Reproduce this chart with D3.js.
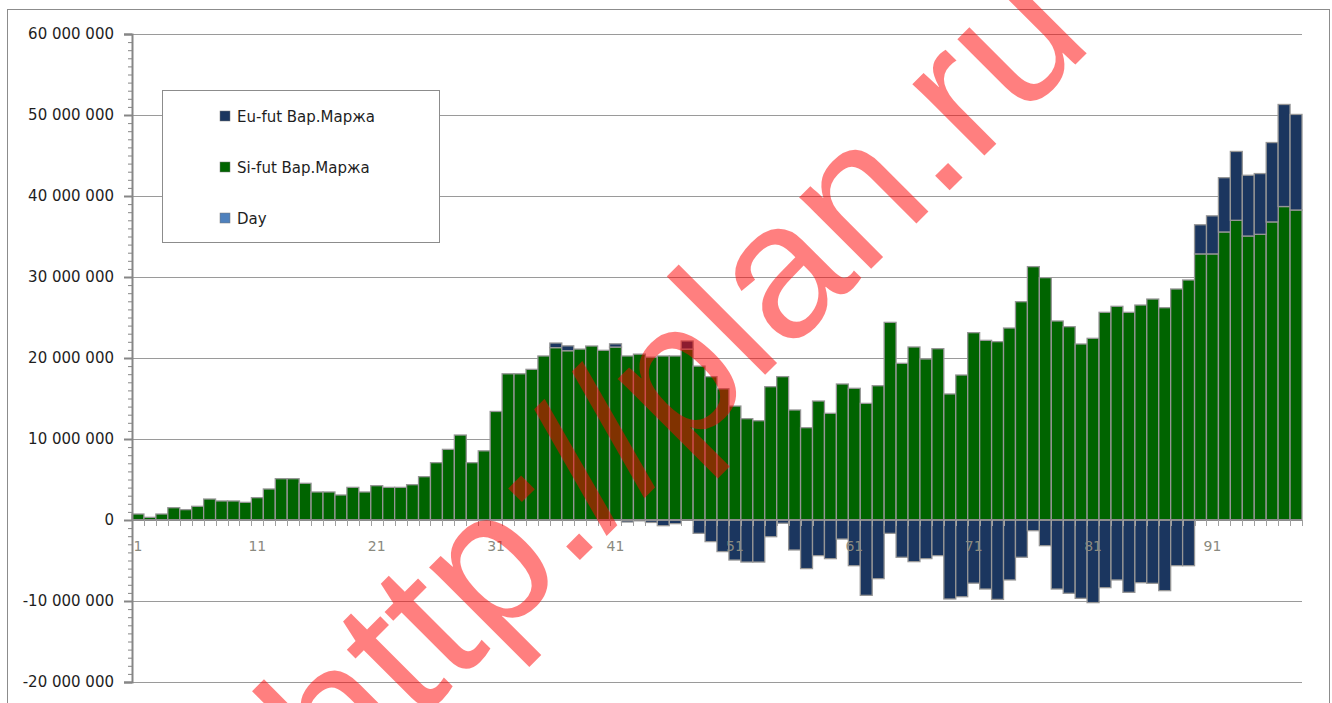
<!DOCTYPE html>
<meta charset="utf-8">
<style>
  body { margin: 0; background: #fff; }
  text { font-family: "DejaVu Sans", sans-serif; }
</style>

<!-- Load d3.js -->
<script src="https://d3js.org/d3.v7.min.js"></script>

<!-- Create a div where the graph will take place -->
<div id="my_dataviz"></div>

<script>

// data (values in millions)
var days = d3.range(1, 99);

var siFut = [
  0.74, 0.33, 0.74, 1.52, 1.28, 1.69, 2.59, 2.35, 2.35, 2.18,
  2.76, 3.83, 5.10, 5.10, 4.53, 3.46, 3.46, 3.09, 4.03, 3.46,
  4.24, 4.03, 4.03, 4.36, 5.35, 7.08, 8.72, 10.49, 7.08, 8.54,
  13.40, 18.05, 18.05, 18.6, 20.25, 21.28, 20.9, 21.1, 21.48, 20.95,
  21.35, 20.25, 20.48, 20.1, 20.25, 20.25, 21.1, 19.0, 17.7, 16.2,
  14.07, 12.51, 12.26, 16.46, 17.7, 13.58, 11.4, 14.69, 13.17, 16.79,
  16.26, 14.4, 16.58, 24.4, 19.34, 21.36, 19.88, 21.15, 15.56, 17.9,
  23.13, 22.18, 22.02, 23.7, 26.95, 31.28, 29.92, 24.57, 23.87, 21.73,
  22.43, 25.64, 26.38, 25.64, 26.54, 27.28, 26.21, 28.52, 29.63, 32.85,
  32.85, 35.56, 37.0, 35.06, 35.27, 36.8, 38.7, 38.27
];

var euFut = [
  0, 0, 0, 0, 0, 0, 0, 0, 0, 0,
  0, 0, 0, 0, 0, 0, 0, 0, 0, 0,
  0, 0, 0, 0, 0, 0, 0, 0, 0, 0,
  0, 0, 0, 0, 0, 0.57, 0.6, 0, 0, 0,
  0.4, -0.25, -0.1, -0.3, -0.7, -0.45, 1.0, -1.65, -2.67, -3.9,
  -4.94, -5.19, -5.19, -2.06, -0.4, -3.7, -6.0, -4.4, -4.77, -2.35,
  -5.64, -9.3, -7.24, -1.65, -4.6, -5.14, -4.77, -4.4, -9.75, -9.47,
  -7.8, -8.52, -9.8, -7.4, -4.6, -1.32, -3.17, -8.52, -9.05, -9.67,
  -10.2, -8.35, -7.4, -8.93, -7.74, -7.82, -8.72, -5.64, -5.64, 3.6,
  4.7, 6.7, 8.5, 7.5, 7.5, 9.8, 12.6, 11.8
];

var seriesNames = ["Eu-fut Вар.Маржа", "Si-fut Вар.Маржа", "Day"];
var seriesColors = ["#1b365f", "#006400", "#4f81bd"];
var yTicks = [-20e6, -10e6, 0, 10e6, 20e6, 30e6, 40e6, 50e6, 60e6];
var xLabels = [1, 11, 21, 31, 41, 51, 61, 71, 81, 91];

// set the dimensions and margins of the graph
var W = 1332, H = 703;
var margin = {top: 34, right: 30, bottom: 21, left: 132},
    width = 1302 - margin.left,
    height = 682 - margin.top;

var svg = d3.select("#my_dataviz")
  .append("svg")
    .attr("width", W)
    .attr("height", H);

// outer frame
svg.append("rect")
    .attr("x", 7.5).attr("y", 9.5)
    .attr("width", 1322).attr("height", 720)
    .attr("fill", "none")
    .attr("stroke", "#8c8c8c");

var g = svg.append("g")
    .attr("transform", "translate(" + margin.left + "," + margin.top + ")");

var x = d3.scaleBand()
    .domain(days)
    .range([0, width])
    .padding(0);

var y = d3.scaleLinear()
    .domain([-20e6, 60e6])
    .range([height, 0]);

// gridlines
g.selectAll(".grid")
  .data(yTicks)
  .enter().append("line")
    .attr("x1", 0).attr("x2", width)
    .attr("y1", function(d) { return Math.round(y(d)) + 0.5; })
    .attr("y2", function(d) { return Math.round(y(d)) + 0.5; })
    .attr("stroke", "#9a9a9a");

// stacked bars
var rows = days.map(function(d, i) {
  return {day: d, si: siFut[i] * 1e6, eu: euFut[i] * 1e6};
});
var stack = d3.stack()
    .keys(["si", "eu"])
    .offset(d3.stackOffsetDiverging);
var layers = stack(rows);
var layerColor = {si: seriesColors[1], eu: seriesColors[0]};

g.selectAll(".layer")
  .data(layers)
  .enter().append("g")
    .attr("fill", function(d) { return layerColor[d.key]; })
  .selectAll("rect")
  .data(function(d) { return d.filter(function(p) { return p[1] !== p[0]; }); })
  .enter().append("rect")
    .attr("x", function(d) { return x(d.data.day); })
    .attr("width", x.bandwidth())
    .attr("y", function(d) { return y(Math.max(d[0], d[1])); })
    .attr("height", function(d) { return Math.abs(y(d[0]) - y(d[1])); })
    .attr("stroke", "#969696")
    .attr("stroke-width", 1.3);

// Y axis with major and minor ticks
var fmt = function(v) {
  var s = d3.format(",")(Math.abs(v)).replace(/,/g, " ");
  return (v < 0 ? "-" : "") + s;
};
var yAxis = g.append("g")
    .call(d3.axisLeft(y).tickValues(yTicks).tickSize(8).tickPadding(10).tickFormat(fmt));
yAxis.select(".domain").attr("stroke", "#868686").attr("stroke-width", 2);
yAxis.selectAll(".tick line").attr("stroke", "#868686").attr("stroke-width", 2);
yAxis.selectAll(".tick text")
    .attr("fill", "#1e1e1e")
    .style("font-size", "15px")
    .style("font-family", "DejaVu Sans, sans-serif");

g.append("g")
    .call(d3.axisLeft(y).tickValues(d3.range(-20e6, 60e6 + 1, 1e6)).tickSize(4).tickFormat(""))
    .call(function(a) { a.select(".domain").remove(); })
    .selectAll(".tick line").attr("stroke", "#868686");

// X axis at zero line: ticks at every category boundary
var x0 = y(0);
g.append("line")
    .attr("x1", 0).attr("x2", width)
    .attr("y1", x0).attr("y2", x0)
    .attr("stroke", "#8c8c8c").attr("stroke-width", 2);

g.selectAll(".xtick")
  .data(days)
  .enter().append("line")
    .attr("x1", function(d) { return Math.round(x(d) + x.bandwidth()) + 0.5; })
    .attr("x2", function(d) { return Math.round(x(d) + x.bandwidth()) + 0.5; })
    .attr("y1", x0).attr("y2", x0 + 6)
    .attr("stroke", "#a0a0a0");

g.selectAll(".xlabel")
  .data(xLabels)
  .enter().append("text")
    .attr("x", function(d) { return x(d) + x.bandwidth() / 2; })
    .attr("y", x0 + 31)
    .attr("text-anchor", "middle")
    .attr("fill", "#8a8a80")
    .style("font-size", "14px")
    .text(function(d) { return d; });

// legend
var legend = svg.append("g");
legend.append("rect")
    .attr("x", 162.5).attr("y", 90.5)
    .attr("width", 277).attr("height", 152)
    .attr("fill", "#fff")
    .attr("stroke", "#8c8c8c");

var items = legend.selectAll(".item")
  .data(seriesNames)
  .enter().append("g")
    .attr("transform", function(d, i) { return "translate(220," + (116 + i * 51) + ")"; });
items.append("rect")
    .attr("x", 0).attr("y", -5)
    .attr("width", 10).attr("height", 10)
    .attr("fill", function(d, i) { return seriesColors[i]; })
    .attr("stroke", "#777")
    .attr("stroke-width", 0.5);
items.append("text")
    .attr("x", 17).attr("y", 5.5)
    .attr("fill", "#1e1e1e")
    .style("font-size", "15px")
    .text(function(d) { return d; });

// watermark
svg.append("text")
    .attr("transform", "translate(341,799) rotate(-45)")
    .attr("fill", "#ff0000")
    .attr("fill-opacity", 0.5)
    .style("font-family", "Liberation Sans, Arial, sans-serif")
    .style("font-size", "192px")
    .text("http://plan.ru");

</script>
